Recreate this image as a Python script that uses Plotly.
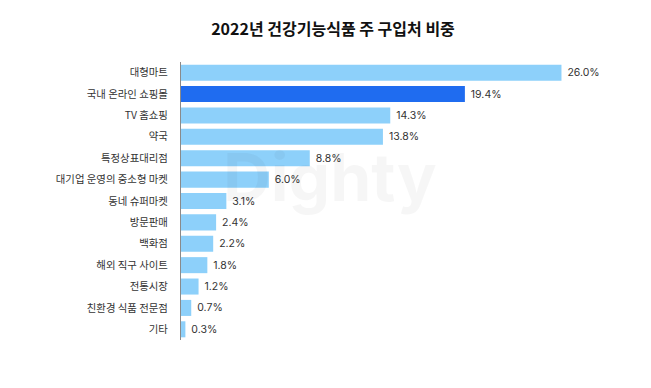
import plotly.graph_objects as go

categories = ["대형마트", "국내 온라인 쇼핑몰", "TV 홈쇼핑", "약국", "특정상표대리점",
              "대기업 운영의 중소형 마켓", "동네 슈퍼마켓", "방문판매", "백화점",
              "해외 직구 사이트", "전통시장", "친환경 식품 전문점", "기타"]
values = [26.0, 19.4, 14.3, 13.8, 8.8, 6.0, 3.1, 2.4, 2.2, 1.8, 1.2, 0.7, 0.3]
highlight = "국내 온라인 쇼핑몰"

colors = ["#1f6cf0" if c == highlight else "#8dd0fa" for c in categories]
labels = [f" {v:.1f}%" for v in values]

fig = go.Figure(go.Bar(
    x=values, y=categories, orientation="h",
    marker=dict(color=colors, line=dict(width=0)),
    text=labels, textposition="outside", cliponaxis=False,
    textfont=dict(family="Inter, Noto Sans CJK KR", size=10.5, color="#333333"),
    hoverinfo="skip",
))

fig.update_layout(
    width=651, height=388,
    margin=dict(l=181, r=31, t=62, b=48, autoexpand=False),
    plot_bgcolor="white", paper_bgcolor="white",
    bargap=0.25,
    showlegend=False,
    title=dict(text="<b>2022년 건강기능식품 주 구입처 비중</b>",
               x=333/651, xanchor="center", y=1-29/388, yanchor="middle",
               font=dict(family="Noto Sans CJK KR", size=16, color="#111111")),
    xaxis=dict(range=[0, 30], visible=False, automargin=False),
    yaxis=dict(autorange="reversed", showline=True, linecolor="#8a8a8a", linewidth=1,
               ticks="", ticklabelstandoff=10, showgrid=False, automargin=False,
               tickfont=dict(family="Noto Sans CJK KR", size=10.4, color="#333333")),
    annotations=[dict(text="<b>Dighty</b>", x=(330-181)/439, y=1-(177-62)/278,
                      xref="paper", yref="paper", xanchor="center", yanchor="middle",
                      showarrow=False,
                      font=dict(family="Inter", size=66, color="rgba(0,0,0,0.035)"))],
)

fig.write_html("out.html", config={"displayModeBar": False},
               post_script="document.body.style.margin='0';document.body.style.padding='0';")
